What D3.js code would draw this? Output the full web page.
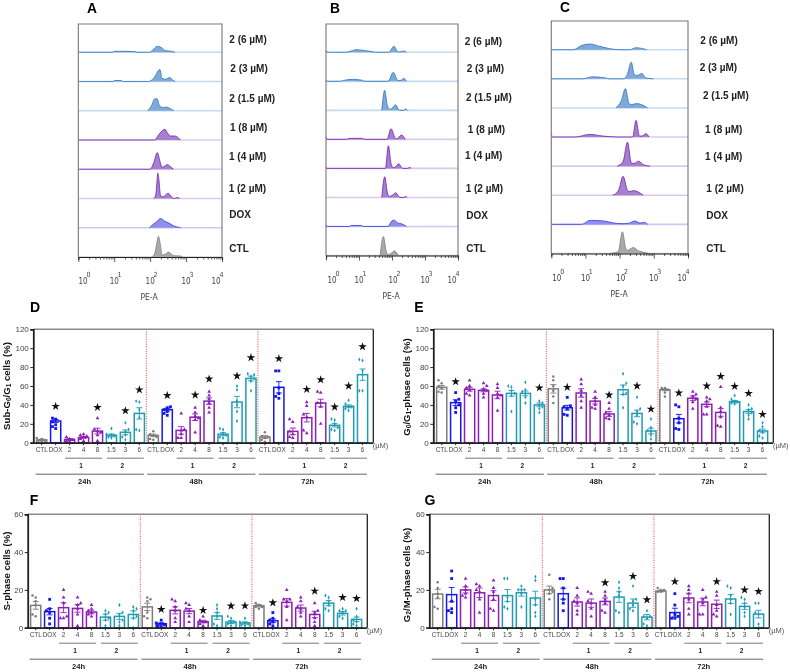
<!DOCTYPE html>
<html><head><meta charset="utf-8">
<script src="https://cdn.jsdelivr.net/npm/d3@7"></script>
<style>html,body{margin:0;padding:0;background:#fff}svg{display:block;filter:blur(0.35px)}text{font-family:"Liberation Sans",Arial,sans-serif}</style>
</head><body><svg id="c" width="790" height="672"></svg>
<script>
// ---------- histogram data: [log10(PE-A), count], rows top to bottom ----------
const rowLabels = ["2 (6 µM)","2 (3 µM)","2 (1.5 µM)","1 (8 µM)","1 (4 µM)","1 (2 µM)","DOX","CTL"];
const rowKinds  = ["two","two","two","one","one","one","dox","ctl"];
const histA = [
 [[0,3],[0.03,0],[0.95,0],[1,3],[1.3,3],[1.58,2],[1.62,0],[1.98,0],[2.08,8],[2.2,18],[2.32,14],[2.42,5],[2.6,3],[2.69,0]],
 [[0,3],[0.03,0],[0.97,0],[1,3],[1.2,3],[1.24,0],[1.95,0],[2.1,10],[2.27,36],[2.33,10],[2.42,7],[2.55,12],[2.62,5],[2.69,0]],
 [[1.93,0],[2.03,14],[2.13,36],[2.19,36],[2.27,13],[2.38,10],[2.46,11],[2.55,7],[2.66,0]],
 [[0,3],[0.03,0],[2.12,0],[2.2,10],[2.3,24],[2.41,32],[2.5,18],[2.58,12],[2.69,12],[2.78,7],[2.84,0]],
 [[0,2],[0.03,0],[2.0,0],[2.1,20],[2.2,50],[2.27,25],[2.33,6],[2.4,9],[2.48,14],[2.56,8],[2.65,0]],
 [[2.1,0],[2.15,8],[2.19,50],[2.21,76],[2.24,60],[2.29,8],[2.36,5],[2.5,16],[2.57,8],[2.62,2],[2.68,0],[2.74,3],[2.82,0]],
 [[1.98,0],[2.08,10],[2.18,18],[2.29,28],[2.4,20],[2.52,14],[2.65,6],[2.72,3],[2.82,1],[2.85,0]],
 [[2.04,0],[2.13,12],[2.2,50],[2.23,62],[2.28,40],[2.33,6],[2.42,8],[2.5,15],[2.58,10],[2.65,4],[2.85,3],[2.9,0]]
];
const histB = [
 [[0,6],[0.03,0],[0.58,0],[0.8,5],[0.9,8],[1.2,5],[1.45,1],[1.5,0],[1.9,0],[2.06,18],[2.18,1],[2.28,2],[2.36,4],[2.44,0]],
 [[0,4],[0.03,0],[0.4,0],[0.65,5],[0.8,6],[1.11,3],[1.15,0],[1.88,0],[2.04,27],[2.18,2],[2.28,3],[2.35,9],[2.44,0]],
 [[1.69,0],[1.78,60],[1.86,14],[1.94,3],[2.03,10],[2.11,17],[2.22,0],[2.35,0],[2.41,4],[2.47,0]],
 [[0,7],[0.03,0],[0.62,0],[0.7,3],[1.1,3],[1.18,0],[1.85,0],[1.97,32],[2.1,3],[2.14,1],[2.29,13],[2.4,0]],
 [[0,3],[0.03,0],[1.8,0],[1.89,68],[1.97,15],[2.04,2],[2.12,6],[2.2,14],[2.32,0],[2.47,0],[2.53,3],[2.58,0]],
 [[1.69,0],[1.78,62],[1.86,14],[1.92,3],[2.02,7],[2.11,14],[2.24,0],[2.36,0],[2.41,3],[2.46,0]],
 [[0,5],[0.03,0],[0.72,0],[0.75,3],[1.08,3],[1.12,0],[1.88,0],[2.0,17],[2.07,19],[2.18,10],[2.29,8],[2.44,0]],
 [[1.64,0],[1.74,57],[1.82,15],[1.88,3],[1.97,6],[2.07,14],[2.19,0]]
];
const histC = [
 [[0,3],[0.03,0],[0.64,0],[0.9,13],[1.13,17],[1.42,10],[1.72,3],[2.0,0],[2.3,0],[2.48,6],[2.79,0]],
 [[0,2],[0.03,0],[0.92,0],[1.2,6],[1.62,2],[1.68,0],[2.11,0],[2.22,12],[2.34,50],[2.43,12],[2.5,10],[2.65,16],[2.76,3],[2.99,0]],
 [[1.89,0],[2.05,22],[2.17,58],[2.27,14],[2.34,10],[2.5,13],[2.82,0]],
 [[0,10],[0.03,0],[0.69,0],[1.13,8],[1.5,3],[1.96,0],[2.38,0],[2.48,50],[2.58,3],[2.65,3],[2.77,10],[2.86,0]],
 [[1.93,0],[2.1,14],[2.23,72],[2.34,10],[2.42,8],[2.55,15],[2.7,4],[2.89,0]],
 [[1.8,0],[1.97,15],[2.1,57],[2.23,15],[2.3,11],[2.4,14],[2.69,0]],
 [[0,3],[0.03,0],[0.89,0],[1.13,12],[1.47,11],[1.91,3],[2.1,2],[2.25,3],[2.45,10],[2.6,4],[2.72,6],[2.82,0]],
 [[1.72,0],[1.96,6],[2.08,65],[2.18,15],[2.23,10],[2.4,18],[2.55,8],[2.74,3],[2.84,0]]
];
const histTicks = [1,10,100,1000,10000];

// ---------- bar chart data ----------
const barLabels = ["CTL","DOX","2","4","8","1.5","3","6","CTL","DOX","2","4","8","1.5","3","6","CTL","DOX","2","4","8","1.5","3","6"];
const barKinds  = ["ctl","dox","one","one","one","two","two","two","ctl","dox","one","one","one","two","two","two","ctl","dox","one","one","one","two","two","two"];
const timeGroups = ["24h","48h","72h"];

const dMeans = [3,23,3.5,5.6,12.3,8,11,31, 7.8,35,13,27,44,9,43,68, 6,58.6,12,26.5,42,18.4,38.5,72];
const dSem   = [0.7,1.6,0.7,1,3,1.3,2.5,6, 1.3,1.5,4,3.5,3.5,1.6,6,2.5, 1.5,6,3.5,4.5,4,1.8,1.5,6];
const dStars = [null,38.5,null,null,37.4,null,33.9,56, null,50,null,50.5,67.4,null,70.6,90, null,89,null,56.5,66.7,37.8,60,101.6];
const dPoints = [
 [1,2,2,3,4,5],[15,17,19,22,25,26],[1,2,3,3,4,6],[2,4,6,7,8,9],[2,8,11,12,14,26],[5,6,7,8,9,15],[3,6,8,12,14,21],[13,14,27,35,43,44],
 [3,4,6,7,9,12],[29,31,33,35,37,38],[5,5,9,13,14,31],[11,24,26,28,32,37],[32,37,42,46,50,54],[5,6,8,10,14,15],[23,33,40,44,56,60],[55,65,68,70,72,73],
 [1,3,5,6,7,11],[47,49,52,58,76,76],[5,6,9,12,22,25],[10,13,27,30,39,43],[20,38,42,42,53,54],[13,14,16,20,24,25],[34,36,38,38,41,45],[55,55,72,76,87,88]
];
const eMeans = [58.6,42.4,56.5,55.4,50.5,52.2,52.2,40, 57,37,52.6,44,30.4,56,31,12.4, 56,25.4,47,40.6,32,43.4,33,12.4];
const eSem   = [2,3,2,1.5,4,3,2.5,2, 4.5,2.5,4.5,3,2.5,5,3.5,3, 1,4.5,2.5,2.5,4,1.3,2,2];
const eStars = [null,64.6,null,null,null,null,null,58, null,58.6,null,null,50.5,null,60,35.6, null,52.6,null,60,70.2,59.6,52.2,30];
const ePoints = [
 [53,54,58,60,63,66],[32,37,40,44,46,53],[50,52,56,58,60,66],[48,52,55,57,60,63],[34,48,50,52,58,62],[33,50,52,55,59,60],[42,48,52,54,56,64],[32,36,38,40,42,44],
 [42,49,55,60,66,70],[29,30,36,38,39,48],[37,44,50,55,62,67],[36,37,40,44,48,54],[25,26,29,32,36,42],[37,51,52,60,63,73],[20,22,29,33,36,48],[4,8,12,13,16,25],
 [49,53,56,57,58,58],[14,15,21,26,38,40],[36,43,46,49,51,54],[30,30,38,44,46,48],[17,18,27,33,37,59],[41,42,43,44,46,50],[25,29,32,35,36,40],[5,7,11,13,17,21]
];
const fMeans = [11.8,8.5,10.6,10.2,8.3,5.6,6,7, 11,2.1,9.2,8.8,3.2,6.2,3,2.5, 11.6,3.7,13.4,10.4,7,13,7.6,4.4];
const fSem   = [2,1.7,2.6,2,1,1.6,1.6,1.9, 1.9,0.5,1.9,1.4,0.7,1.8,0.8,0.6, 0.6,1,2,1.6,1.7,1.4,0.9,1.2];
const fStars = [null,null,null,null,null,null,null,null, null,9.7,null,null,9.2,null,11.5,11.6, null,13.2,null,null,19.4,null,16,15.5];
const fPoints = [
 [6,7,12,14,16,17],[2,5,8,9,10,15],[5,5,6,13,16,20],[1,7,10,12,13,16],[6,7,8,9,10,12],[1,4,5,7,8,9],[1,3,4,7,8,12],[0,5,6,9,10,11],
 [5,6,8,14,15,16],[0.5,1,1.5,2,2.5,4],[3,5,9,11,14,15],[3,6,9,10,12,13],[1,2,3,3,4,6],[1,2,6,8,10,12],[1,2,3,3,5,6],[1,1.5,2,2.5,3,5],
 [10,11,11,12,12,13],[1,2,3,4,5,8],[4,11,14,15,15,20],[6,8,10,11,14,16],[1,3,5,8,9,13],[9,10,12,14,16,17],[5,6,8,9,9,10],[1,2,3,4,6,10]
];
const gMeans = [17.8,17.5,20,18.5,17,17,18.5,15.7, 20,18,13.6,13,13.9,16.2,13,5.6, 19.4,8,15.7,13.6,12.4,15.2,11.3,7.2];
const gSem   = [2.5,3.8,1.6,2.5,2.6,3.2,1.8,3.6, 2,2.9,2.2,2.2,1.8,2.8,2.2,1.4, 0.4,2.3,2.5,2,2.2,2.4,1.6,2];
const gStars = [null,null,null,null,null,null,null,null, null,null,null,null,23.8,null,27.2,14.8, null,24.4,null,null,24.4,null,20,19.2];
const gPoints = [
 [10,11,16,18,21,24],[8,9,10,14,26,30],[16,17,18,20,22,26],[8,15,19,20,22,23],[9,10,15,19,21,25],[10,11,14,16,26,26],[11,18,20,20,20,22],[6,8,12,15,25,27],
 [15,18,19,20,21,28],[9,13,15,21,26,26],[7,9,13,14,17,21],[6,10,13,14,18,19],[8,9,13,15,17,19],[8,9,17,19,21,24],[9,10,12,14,15,22],[1,2,5,6,6,9],
 [19,19,20,20,20,21],[5,5,6,7,12,18],[7,10,15,18,20,22],[7,7,13,15,16,20],[6,7,9,12,17,19],[7,13,15,17,21,22],[6,8,11,13,15,16],[0,2,7,8,13,13]
];

// ---------- styling ----------
const histStyle = {
 one:{stroke:"#6f22b0",fill:"#a67fcf",base:"#dcc8ee"},
 two:{stroke:"#2f78c2",fill:"#7fa9d8",base:"#c5daf0"},
 dox:{stroke:"#3d3de0",fill:"#8f8fec",base:"#c9c9f5"},
 ctl:{stroke:"#808080",fill:"#a9a9a9",base:"#d0d0d0"}
};
const barStyle = {
 ctl:{color:"#7d7d7d",sym:d3.symbolCircle,size:5},
 dox:{color:"#1616e6",sym:d3.symbolSquare,size:8},
 one:{color:"#8c20b4",sym:d3.symbolTriangle,size:6},
 two:{color:"#1f9cb4",sym:d3.symbolDiamond,size:4.5}
};
const svg = d3.select("#c");

function txt(g,x,y,s,size,opt={}){
  return g.append("text").attr("x",x).attr("y",y).attr("font-size",size)
   .attr("dominant-baseline","central").attr("text-anchor",opt.anchor||"middle")
   .attr("font-weight",opt.bold?"bold":"normal").attr("fill",opt.fill||"#000").text(s);
}

// ---------- histogram panels ----------
function histPanel(cfg){
  const g = svg.append("g");
  txt(g,cfg.letterX,cfg.letterY,cfg.letter,13.8,{bold:true,anchor:"start"});
  const x = d3.scaleLog().domain([1,1e4]).range([cfg.x0,cfg.x1]);
  const step = (cfg.bottom-cfg.top-cfg.firstH)/7;
  rowLabels.forEach((lab,i)=>{
    const base = cfg.top+cfg.firstH+step*i;
    const y = d3.scaleLinear().domain([0,87]).range([base,base-29]);
    const st = histStyle[rowKinds[i]];
    g.append("line").attr("x1",cfg.x0).attr("x2",cfg.x1).attr("y1",base).attr("y2",base).attr("stroke",st.base).attr("stroke-width",1.6);
    const pts = cfg.data[i];
    const X = d=>x(Math.pow(10,d[0]));
    g.append("path").datum(pts).attr("fill",st.fill)
      .attr("d",d3.area().x(X).y0(base).y1(d=>y(d[1])).curve(d3.curveMonotoneX));
    g.append("path").datum(pts).attr("fill","none").attr("stroke",st.stroke).attr("stroke-width",0.9).attr("opacity",0.9)
      .attr("d",d3.line().x(X).y(d=>y(d[1])).curve(d3.curveMonotoneX));
    txt(g,cfg.labelX[i],cfg.labelY[i],lab,10,{bold:true,anchor:"start",fill:"#222"});
  });
  // frame
  g.append("path").attr("d",`M${cfg.x0},${cfg.bottom}V${cfg.top}H${cfg.x1}V${cfg.bottom}`).attr("fill","none").attr("stroke","#777").attr("stroke-width",1.1);
  // log axis
  const minor = [];
  for(let d=0;d<4;d++) for(let m=1;m<10;m++) minor.push(m*Math.pow(10,d));
  minor.push(1e4);
  const ax = g.append("g").attr("transform",`translate(0,${cfg.bottom})`)
    .call(d3.axisBottom(x).tickValues(minor).tickSize(3).tickFormat(""));
  ax.select(".domain").attr("stroke","#222").attr("stroke-width",1.2);
  ax.selectAll(".tick line").attr("stroke","#333").attr("stroke-width",0.8)
    .attr("y2",d=>histTicks.includes(d)?5:2.5);
  histTicks.forEach((t,i)=>{
    const tx = x(t)+cfg.tickOff[i];
    txt(g,tx,cfg.bottom+24.5,"10",8,{fill:"#444"}).attr("class","nar");
    txt(g,tx+5.4,cfg.bottom+18,String(i),7,{fill:"#444"}).attr("class","nar");
  });
  txt(g,cfg.peX,cfg.peY,"PE-A",8.5,{fill:"#444"}).attr("class","nar");
}
histPanel({letter:"A",letterX:87,letterY:8,x0:78.3,x1:222,top:24,bottom:257,firstH:28.3,data:histA,
  labelX:[229.3,230.3,229.3,230,229,228.7,229.3,229.3],labelY:[39.3,68.3,98,127,156,188.3,214.7,248.3],
  tickOff:[4.7,0,0,0,-6],peX:149,peY:297});
histPanel({letter:"B",letterX:330,letterY:8,x0:326,x1:458,top:24,bottom:255.5,firstH:28.3,data:histB,
  labelX:[464.7,466.7,466,467.7,465,465.7,466.3,466.3],labelY:[41,68,97,129,155.7,188,215,248.3],
  tickOff:[6,0,1,0,-6],peX:391,peY:296});
histPanel({letter:"C",letterX:560,letterY:7,x0:551.3,x1:688,top:21,bottom:253.5,firstH:28.7,data:histC,
  labelX:[700.3,699.7,703,705,705,706.3,706.3,706.3],labelY:[40.3,67.3,95.7,129,156.3,188,215,248.3],
  tickOff:[5.5,0,1,0,-6],peX:619,peY:294});
svg.selectAll("text.nar").style("font-family",'"Liberation Sans Narrow","DejaVu Sans Condensed","Liberation Sans",sans-serif');

// ---------- bar panels ----------
function dodge(vals,y){
  const sorted = vals.slice().sort((a,b)=>a-b);
  const placed = [];
  const offs = [0,-3.2,3.2,-5,5];
  sorted.forEach((v,k)=>{
    const py = y(v);
    const order = k%2 ? offs : [0,3.2,-3.2,5,-5];
    let off = 0;
    for(const o of order){ if(!placed.some(p=>Math.hypot(p.x-o,p.y-py)<2.9)){off=o;break;} }
    placed.push({x:off,y:py,v});
  });
  return placed;
}
const STEP = 13.95;
function barPanel(cfg){
  const g = svg.append("g");
  txt(g,cfg.letterX,cfg.letterY,cfg.letter,14,{bold:true});
  const x = d3.scaleBand().domain(d3.range(24)).range([cfg.first-STEP/2,cfg.first-STEP/2+24*STEP]).paddingInner(0.2).paddingOuter(0.1);
  const xc = i=>x(i)+x.bandwidth()/2;
  const y = d3.scaleLinear().domain([0,cfg.max]).range([cfg.y0,cfg.yTop]);
  // dividers
  [7,15].forEach(i=>g.append("line").attr("x1",xc(i)+STEP/2).attr("x2",xc(i)+STEP/2).attr("y1",y(cfg.max)).attr("y2",cfg.y0)
     .attr("stroke","#f23a3a").attr("stroke-width",1).attr("stroke-dasharray","1,1.4"));
  // bars
  const bars = g.selectAll(".bar").data(d3.range(24)).join("g");
  bars.append("rect").attr("x",i=>x(i)+0.5).attr("width",x.bandwidth()-1).attr("y",i=>y(cfg.means[i])).attr("height",i=>cfg.y0-y(cfg.means[i]))
    .attr("fill","#fff").attr("stroke",i=>barStyle[barKinds[i]].color).attr("stroke-width",1.5);
  // error bars
  bars.append("path").attr("fill","none").attr("stroke",i=>barStyle[barKinds[i]].color).attr("stroke-width",0.9)
    .attr("d",i=>{const c=xc(i),a=y(cfg.means[i]+cfg.sem[i]),b=y(Math.max(0,cfg.means[i]-cfg.sem[i]));
      return `M${c-3},${a}H${c+3}M${c},${a}V${b}M${c-3},${b}H${c+3}`;});
  // points
  d3.range(24).forEach(i=>{
    const st = barStyle[barKinds[i]];
    dodge(cfg.points[i],y).forEach(p=>{
      g.append("path").attr("d",d3.symbol().type(st.sym).size(st.size)())
       .attr("transform",`translate(${xc(i)+p.x},${p.y})`).attr("fill",st.color);
    });
    if(cfg.stars[i]!=null) g.append("path").attr("d",d3.symbol().type(d3.symbolStar).size(23)())
       .attr("transform",`translate(${xc(i)},${y(cfg.stars[i])})`).attr("fill","#111");
  });
  // axes and frame
  const right = cfg.right;
  g.append("line").attr("x1",cfg.left).attr("x2",right).attr("y1",y(cfg.max)).attr("y2",y(cfg.max)).attr("stroke","#8a8a8a").attr("stroke-width",1.4);
  g.append("line").attr("x1",right).attr("x2",right).attr("y1",y(cfg.max)).attr("y2",cfg.y0).attr("stroke","#222").attr("stroke-width",1.3);
  const ay = g.append("g").attr("transform",`translate(${cfg.left},0)`)
    .call(d3.axisLeft(y).tickValues(cfg.ticks).tickSize(3).tickPadding(1.5));
  ay.select(".domain").attr("stroke","#222").attr("stroke-width",1.8);
  ay.selectAll("text").attr("font-size",8).attr("fill","#444").style("font-family",'"Liberation Sans",sans-serif');
  ay.selectAll(".tick line").attr("stroke","#222");
  const ax = g.append("g").attr("transform",`translate(0,${cfg.y0})`)
    .call(d3.axisBottom(x).tickSize(2.5).tickPadding(1.8).tickFormat(i=>barLabels[i]));
  ax.select(".domain").attr("d",`M${cfg.left},0.5H${right}`).attr("stroke","#222").attr("stroke-width",1.8);
  ax.selectAll("text").attr("font-size",6.4).attr("fill","#444").style("font-family",'"Liberation Sans",sans-serif');
  ax.selectAll(".tick line").attr("stroke","#222");
  txt(g,cfg.umX,cfg.y0+2.7,"(µM)",7.5,{fill:"#555"});
  // group brackets
  const line=(a,b,yy,c)=>g.append("line").attr("x1",a).attr("x2",b).attr("y1",yy).attr("y2",yy).attr("stroke",c).attr("stroke-width",1);
  timeGroups.forEach((lab,k)=>{
    const s=k*8;
    line(xc(s+2)-4.5,xc(s+4)+4.5,cfg.y0+15.5,"#777");
    line(xc(s+5)-4.5,xc(s+7)+4.5,cfg.y0+15.5,"#777");
    txt(g,(xc(s+2)+xc(s+4))/2-2.5,cfg.y0+22.7,"1",6.5,{bold:true,fill:"#222"});
    txt(g,(xc(s+5)+xc(s+7))/2-3,cfg.y0+22.7,"2",6.5,{bold:true,fill:"#222"});
    line(xc(s)-6,xc(s+7)+4.5,cfg.y0+31.5,"#666");
    txt(g,(xc(s)+xc(s+7))/2-6,cfg.y0+39,lab,7.6,{bold:true,fill:"#222"});
  });
  // y title
  const t = g.append("text").attr("transform",`translate(${cfg.titleX},${cfg.titleY}) rotate(-90)`)
    .attr("text-anchor","middle").attr("dominant-baseline","central").attr("font-size",9.6).attr("font-weight","bold").attr("fill","#111");
  cfg.title.forEach(s=>{
    const sub=s[0]==="_";
    const sp=t.append("tspan").text(sub?s.slice(1):s);
    if(sub) sp.attr("font-size",6.5).attr("dy",2); else if(s!==cfg.title[0]) sp.attr("dy",-2);
  });
}
barPanel({letter:"D",letterX:35,letterY:307,first:41.7,left:33.3,right:373.3,y0:442.7,yTop:329.3,max:120,ticks:[0,20,40,60,80,100,120],
  means:dMeans,sem:dSem,stars:dStars,points:dPoints,umX:380.5,titleX:5.5,titleY:386,title:["Sub-G","_0","/G","_1"," cells (%)"]});
barPanel({letter:"E",letterX:419,letterY:307,first:441.7,left:433.3,right:773.3,y0:442.7,yTop:329.3,max:120,ticks:[0,20,40,60,80,100,120],
  means:eMeans,sem:eSem,stars:eStars,points:ePoints,umX:780.7,titleX:405.5,titleY:387,title:["G","_0","/G","_1","-phase cells (%)"]});
barPanel({letter:"F",letterX:34,letterY:500,first:35.7,left:27.7,right:367.3,y0:627.7,yTop:514.3,max:60,ticks:[0,20,40,60],
  means:fMeans,sem:fSem,stars:fStars,points:fPoints,umX:374.5,titleX:5.5,titleY:571,title:["S-phase cells (%)"]});
barPanel({letter:"G",letterX:430,letterY:500,first:437.7,left:429.3,right:769.3,y0:627.7,yTop:514.3,max:60,ticks:[0,20,40,60],
  means:gMeans,sem:gSem,stars:gStars,points:gPoints,umX:776.5,titleX:405.5,titleY:575,title:["G","_2","/M-phase cells (%)"]});
</script></body></html>
